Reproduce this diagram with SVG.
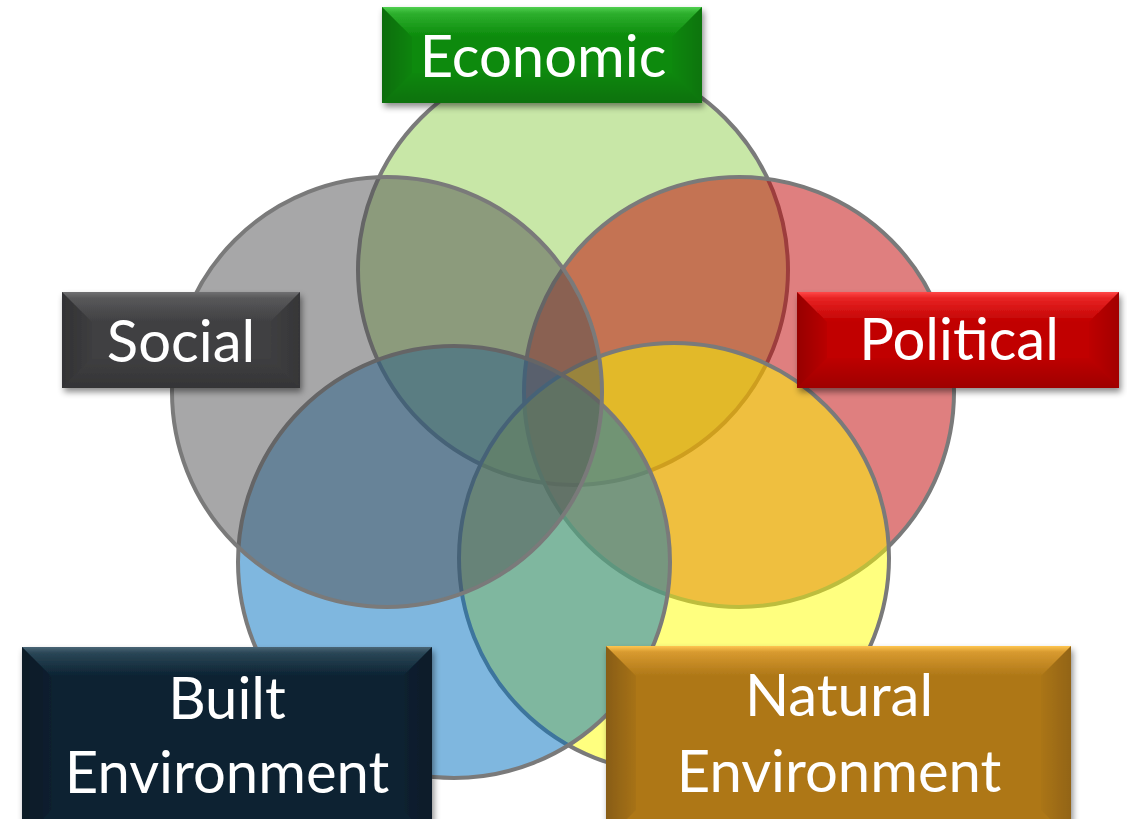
<svg xmlns="http://www.w3.org/2000/svg" width="1127" height="819" viewBox="0 0 1127 819">
<defs>
<style>
.ring{stroke:#7a7a7a;stroke-width:4;fill-opacity:0.5}
.lbl{font-family:Lato,"Liberation Sans",sans-serif;font-size:58px;fill:#ffffff;text-anchor:middle}
</style>
<linearGradient id="tEco" x1="0" y1="0" x2="0" y2="1">
<stop offset="0" stop-color="#50d050"/>
<stop offset="0.2" stop-color="#2eb02e"/>
<stop offset="1" stop-color="#0b8a0b"/>
</linearGradient>
<linearGradient id="tSoc" x1="0" y1="0" x2="0" y2="1">
<stop offset="0" stop-color="#707072"/>
<stop offset="0.2" stop-color="#58585a"/>
<stop offset="1" stop-color="#404042"/>
</linearGradient>
<linearGradient id="tPol" x1="0" y1="0" x2="0" y2="1">
<stop offset="0" stop-color="#ff4848"/>
<stop offset="0.2" stop-color="#e82424"/>
<stop offset="1" stop-color="#c10000"/>
</linearGradient>
<linearGradient id="tBui" x1="0" y1="0" x2="0" y2="1">
<stop offset="0" stop-color="#4a6676"/>
<stop offset="0.2" stop-color="#2a4656"/>
<stop offset="1" stop-color="#0a2131"/>
</linearGradient>
<linearGradient id="tNat" x1="0" y1="0" x2="0" y2="1">
<stop offset="0" stop-color="#ffc650"/>
<stop offset="0.2" stop-color="#d89a30"/>
<stop offset="1" stop-color="#ae7717"/>
</linearGradient>
<linearGradient id="bvLeft" x1="0" y1="0" x2="1" y2="0">
<stop offset="0" stop-color="#000" stop-opacity="0.22"/>
<stop offset="1" stop-color="#000" stop-opacity="0.04"/>
</linearGradient>
<linearGradient id="bvRight" x1="1" y1="0" x2="0" y2="0">
<stop offset="0" stop-color="#000" stop-opacity="0.16"/>
<stop offset="1" stop-color="#000" stop-opacity="0.02"/>
</linearGradient>
<linearGradient id="bvBot" x1="0" y1="0" x2="0" y2="1">
<stop offset="0" stop-color="#000" stop-opacity="0.02"/>
<stop offset="1" stop-color="#000" stop-opacity="0.18"/>
</linearGradient>
<filter id="shd" x="-10%" y="-10%" width="125%" height="135%">
<feDropShadow dx="2" dy="4" stdDeviation="3" flood-color="#000" flood-opacity="0.45"/>
</filter>
</defs>
<rect width="1127" height="819" fill="#ffffff"/>
<g id="circles">
<circle id="c-economic" class="ring" cx="573" cy="270" r="215" fill="#92d050"/>
<circle id="c-political" class="ring" cx="739" cy="392" r="215" fill="#c00000"/>
<circle id="c-natural" class="ring" cx="674" cy="558" r="215" fill="#ffff00"/>
<circle id="c-built" class="ring" cx="454" cy="562" r="216" fill="#0070c0"/>
<circle id="c-social" class="ring" cx="387" cy="392" r="215" fill="#505052"/>
</g>
<g id="connectors"/>
<g id="economic" filter="url(#shd)">
<rect x="382" y="7" width="320" height="96" fill="#0b8a0b"/>
<polygon points="382,7 702,7 672,37 412,37" fill="url(#tEco)"/>
<polygon points="382,7 412,37 412,73 382,103" fill="url(#bvLeft)"/>
<polygon points="702,7 672,37 672,73 702,103" fill="url(#bvRight)"/>
<polygon points="382,103 412,73 672,73 702,103" fill="url(#bvBot)"/>
<text class="lbl" x="543" y="77">Economic</text>
</g>
<g id="social" filter="url(#shd)">
<rect x="62" y="292" width="238" height="96" fill="#404042"/>
<polygon points="62,292 300,292 270,322 92,322" fill="url(#tSoc)"/>
<polygon points="62,292 92,322 92,358 62,388" fill="url(#bvLeft)"/>
<polygon points="300,292 270,322 270,358 300,388" fill="url(#bvRight)"/>
<polygon points="62,388 92,358 270,358 300,388" fill="url(#bvBot)"/>
<text class="lbl" x="181" y="362">Social</text>
</g>
<g id="political" filter="url(#shd)">
<rect x="797" y="292" width="322" height="96" fill="#c10000"/>
<polygon points="797,292 1119,292 1089,322 827,322" fill="url(#tPol)"/>
<polygon points="797,292 827,322 827,358 797,388" fill="url(#bvLeft)"/>
<polygon points="1119,292 1089,322 1089,358 1119,388" fill="url(#bvRight)"/>
<polygon points="797,388 827,358 1089,358 1119,388" fill="url(#bvBot)"/>
<text class="lbl" x="959" y="360">Political</text>
</g>
<g id="built" filter="url(#shd)">
<rect x="22" y="647" width="410" height="193" fill="#0a2131"/>
<polygon points="22,647 432,647 402,677 52,677" fill="url(#tBui)"/>
<polygon points="22,647 52,677 52,810 22,840" fill="url(#bvLeft)"/>
<polygon points="432,647 402,677 402,810 432,840" fill="url(#bvRight)"/>
<text class="lbl" x="227" y="719">Built</text>
<text class="lbl" x="227" y="793">Environment</text>
</g>
<g id="natural" filter="url(#shd)">
<rect x="606" y="646" width="465" height="194" fill="#ae7717"/>
<polygon points="606,646 1071,646 1041,676 636,676" fill="url(#tNat)"/>
<polygon points="606,646 636,676 636,810 606,840" fill="url(#bvLeft)"/>
<polygon points="1071,646 1041,676 1041,810 1071,840" fill="url(#bvRight)"/>
<text class="lbl" x="839" y="716">Natural</text>
<text class="lbl" x="839" y="792">Environment</text>
</g>
</svg>
